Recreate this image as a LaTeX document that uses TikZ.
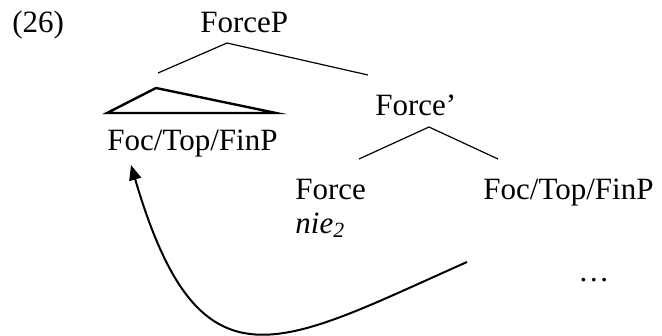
\documentclass[tikz,border=0pt]{standalone}
\usepackage{fontspec}
\setmainfont{Liberation Serif}
\usetikzlibrary{arrows.meta}

\begin{document}
\begin{tikzpicture}[x=0.5pt, y=-0.5pt,
  lbl/.style={inner sep=0pt, anchor=base west, font=\fontsize{15.5}{18}\selectfont},
  branch/.style={line width=0.6pt},
  movement/.style={line width=1pt, -{Triangle[length=7.5pt, width=6pt]}}]
\useasboundingbox (0,0) rectangle (662,336);
% labels
\node[lbl] (ex) at (12,33) {(26)};
\node[lbl] (forceP) at (200,33) {ForceP};
\node[lbl] (spec) at (107,151) {Foc/Top/FinP};
\node[lbl] (forceBar) at (375,116) {Force'};
\node[lbl] (force) at (295,199) {Force};
\node[lbl] (nie) at (295,233) {\itshape nie\textsubscript{2}};
\node[lbl] (compl) at (483,199) {Foc/Top/FinP};
\node[lbl] (dots) at (578,281) {\dots};
% branches
\coordinate (topA) at (227,43);
\coordinate (topL) at (158,73);
\coordinate (topR) at (368,75);
\coordinate (barA) at (429,127);
\coordinate (barL) at (359,159);
\coordinate (barR) at (498,159);
\draw[branch] (topL) -- (topA) -- (topR);
\draw[branch] (barL) -- (barA) -- (barR);
\draw[line width=1.2pt] (156,88) -- (107,113) -- (276,113) -- cycle;
% movement
\coordinate (moveStart) at (467,262);
\coordinate (moveEnd) at (131,165);
\draw[movement] (moveStart) .. controls (280,345) and (200,400) .. (moveEnd);
\end{tikzpicture}
\end{document}
